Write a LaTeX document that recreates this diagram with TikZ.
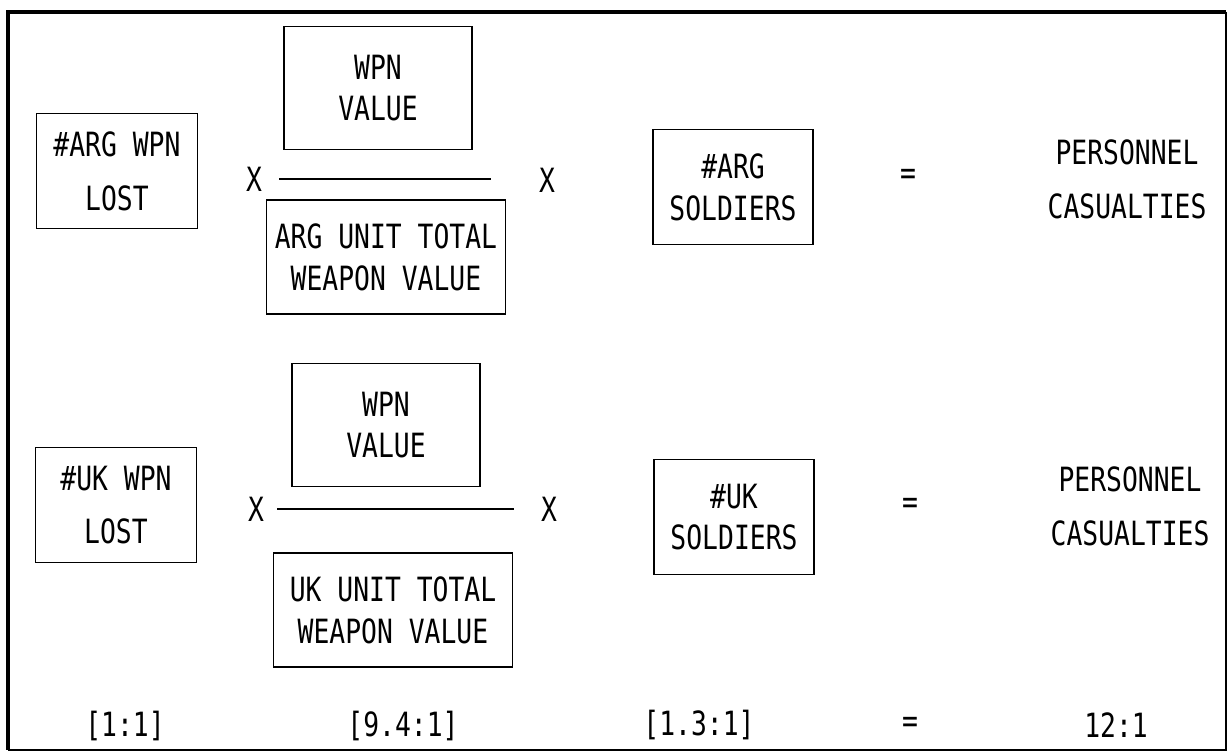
\documentclass[tikz,border=0pt]{standalone}
\usepackage{fontspec}
\newfontfamily\plotfont[FakeStretch=0.79]{DejaVu Sans Mono}
\usepackage{tikz}
\usetikzlibrary{positioning}

\begin{document}
\begin{tikzpicture}[x=0.02cm, y=-0.02cm,
  txt/.style={inner sep=1pt, align=center, font=\plotfont\fontsize{19}{23.8}\selectfont},
  box/.style={txt, draw=black, line width=0.9pt},
  lostbox/.style={box, minimum width=3.22cm, minimum height=2.3cm},
  valbox/.style={box, minimum width=3.75cm, minimum height=2.46cm},
  totbox/.style={box, minimum width=4.78cm, minimum height=2.29cm},
  solbox/.style={box, minimum width=3.2cm, minimum height=2.3cm},
  bar/.style={line width=0.9pt}]

  \useasboundingbox (0,0) rectangle (1231,754);
  \draw[line width=1.8pt] (1226,12) -- (8,12) -- (8,750);
  \draw[line width=0.6pt] (1226,12) -- (1226,750) -- (8,750);

  % argentine row
  \node[lostbox] (lostA) at (117,171) {\#ARG WPN\\[6.8pt]LOST};
  \node[txt] (xA1) at (254,179) {X};
  \node[valbox] (valA) at (378,88) {WPN\\VALUE};
  \coordinate (barAl) at (279,179);
  \coordinate (barAr) at (491,179);
  \draw[bar] (barAl) -- (barAr);
  \node[totbox] (totA) at (386,257) {ARG UNIT TOTAL\\WEAPON VALUE};
  \node[txt] (xA2) at (547,180) {X};
  \node[solbox] (solA) at (733,187) {\#ARG\\SOLDIERS};
  \node[txt] (eqA) at (908,177) {=};
  \node[txt] (casA) at (1127,179) {PERSONNEL\\[7pt]CASUALTIES};

  % uk row
  \node[lostbox] (lostB) at (116,505) {\#UK WPN\\[6.8pt]LOST};
  \node[txt] (xB1) at (256,509) {X};
  \node[valbox] (valB) at (386,425) {WPN\\VALUE};
  \coordinate (barBl) at (277,509);
  \coordinate (barBr) at (514,509);
  \draw[bar] (barBl) -- (barBr);
  \node[totbox] (totB) at (393,610) {UK UNIT TOTAL\\WEAPON VALUE};
  \node[txt] (xB2) at (549,509) {X};
  \node[solbox] (solB) at (734,517) {\#UK\\SOLDIERS};
  \node[txt] (eqB) at (910,506) {=};
  \node[txt] (casB) at (1130,506) {PERSONNEL\\[7pt]CASUALTIES};

  % ratios
  \node[txt] (rLost) at (125,726) {[1:1]};
  \node[txt] (rVal) at (403,726) {[9.4:1]};
  \node[txt] (rSol) at (699,725) {[1.3:1]};
  \node[txt] (rEq) at (910,725) {=};
  \node[txt] (rCas) at (1116,725) {12:1};
\end{tikzpicture}
\end{document}
